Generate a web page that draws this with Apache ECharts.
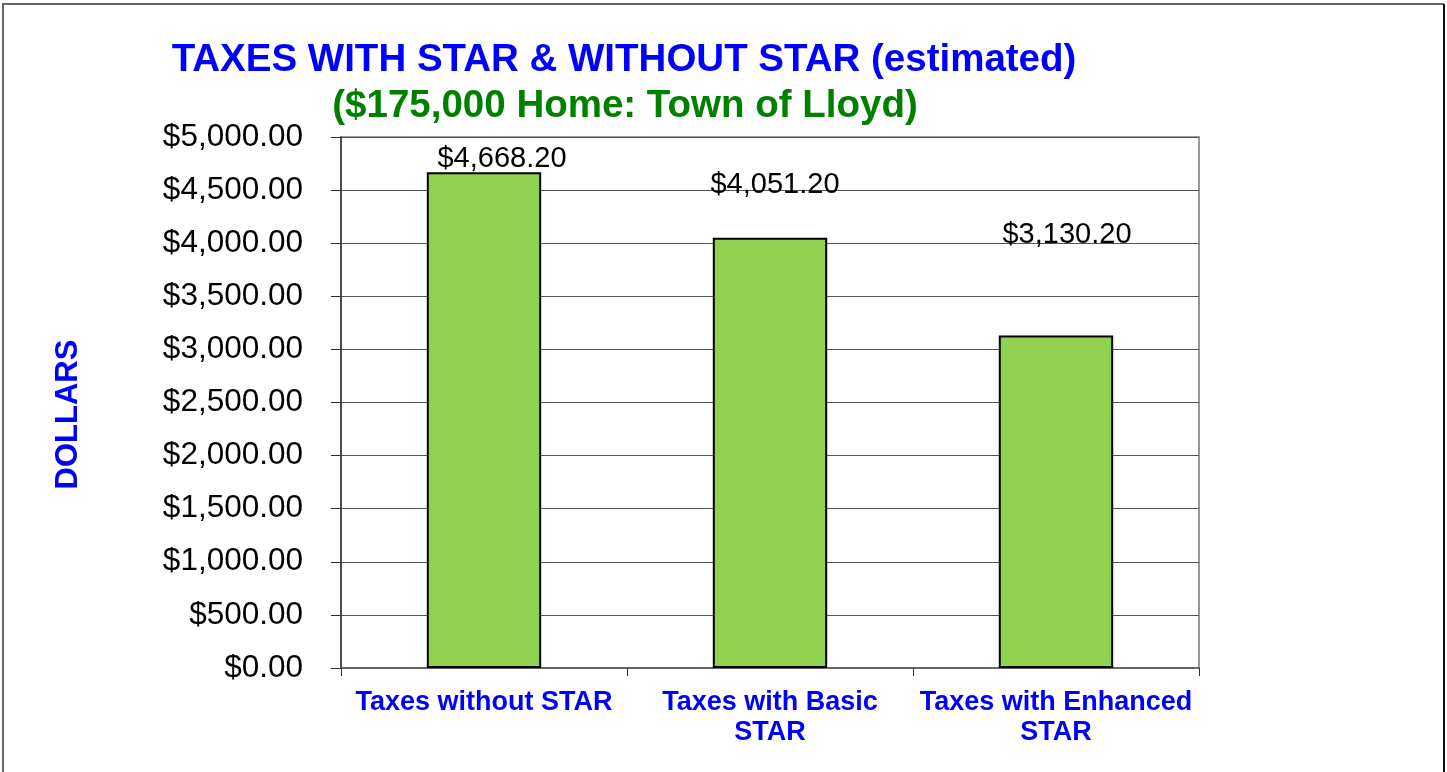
<!DOCTYPE html>
<html>
<head>
<meta charset="utf-8">
<script src="https://cdn.jsdelivr.net/npm/echarts@6/dist/echarts.min.js"></script>
<style>
  html, body { margin: 0; padding: 0; background: #fff; }
  #main { width: 1447px; height: 772px; }
</style>
</head>
<body>
<div id="main"></div>
<script>
// 数据
var categories = ['Taxes without STAR', 'Taxes with Basic\nSTAR', 'Taxes with Enhanced\nSTAR'];
var taxValues = [4668.20, 4051.20, 3130.20];
var yTicks = [0, 500, 1000, 1500, 2000, 2500, 3000, 3500, 4000, 4500, 5000];

// 数据标签位置（原图中标签高度不一）
var labelOffsets = [[18, 3], [5, -36], [11, -84]];

function money(v) {
    return '$' + v.toLocaleString('en-US', {minimumFractionDigits: 2, maximumFractionDigits: 2});
}

var myChart = echarts.init(document.getElementById('main'));
var option = {
    animation: false,
    backgroundColor: '#fff',
    title: [
        {
            text: 'TAXES WITH STAR & WITHOUT STAR (estimated)',
            left: 619,
            top: 36,
            textAlign: 'center',
            textStyle: {
                color: '#0000ff',
                fontSize: 38.5,
                fontWeight: 'bold',
                fontFamily: 'Liberation Sans'
            }
        },
        {
            text: '($175,000 Home: Town of Lloyd)',
            left: 620,
            top: 82,
            textAlign: 'center',
            textStyle: {
                color: '#008000',
                fontSize: 38.5,
                fontWeight: 'bold',
                fontFamily: 'Liberation Sans'
            }
        }
    ],
    graphic: [
        {
            type: 'polyline',
            shape: {points: [[3, 772], [3, 4], [1444, 4]]},
            style: {stroke: '#666', lineWidth: 2, fill: null},
            silent: true
        },
        {
            type: 'line',
            shape: {x1: 1444, y1: 4, x2: 1444, y2: 772},
            style: {stroke: '#111', lineWidth: 2},
            silent: true
        }
    ],
    grid: {
        left: 341,
        right: 248,
        top: 137,
        bottom: 104,
        show: true,
        borderColor: '#999',
        borderWidth: 2
    },
    xAxis: {
        type: 'category',
        data: categories,
        axisLine: {lineStyle: {color: '#666', width: 2}},
        axisTick: {show: true, length: 8, lineStyle: {color: '#333'}},
        axisLabel: {
            color: '#0000ff',
            fontSize: 27,
            fontWeight: 'bold',
            fontFamily: 'Liberation Sans',
            lineHeight: 30,
            margin: 20,
            interval: 0
        }
    },
    yAxis: {
        type: 'value',
        min: 0,
        max: 5000,
        interval: 500,
        name: 'DOLLARS',
        nameLocation: 'middle',
        nameGap: 257,
        nameRotate: 90,
        nameTextStyle: {
            color: '#0000ff',
            fontSize: 31,
            fontWeight: 'bold',
            fontFamily: 'Liberation Sans',
            padding: [0, 24, 0, 0]
        },
        axisLine: {show: true, lineStyle: {color: '#333', width: 1.5}},
        axisTick: {show: true, length: 10, lineStyle: {color: '#333'}},
        axisLabel: {
            color: '#000',
            fontSize: 31.5,
            fontFamily: 'Liberation Sans',
            margin: 38,
            formatter: function (v) {
                return yTicks.indexOf(v) >= 0 ? money(v) : '';
            }
        },
        splitLine: {show: true, lineStyle: {color: '#555', width: 1}}
    },
    series: [
        {
            type: 'bar',
            barWidth: '40%',
            itemStyle: {
                color: '#92d050',
                borderColor: '#000',
                borderWidth: 2
            },
            label: {
                show: true,
                position: 'top',
                distance: 2,
                color: '#000',
                fontSize: 29,
                fontFamily: 'Liberation Sans',
                formatter: function (p) { return money(p.value); }
            },
            data: taxValues.map(function (v, i) {
                return {value: v, label: {offset: labelOffsets[i]}};
            })
        }
    ]
};
myChart.setOption(option);
</script>
</body>
</html>
